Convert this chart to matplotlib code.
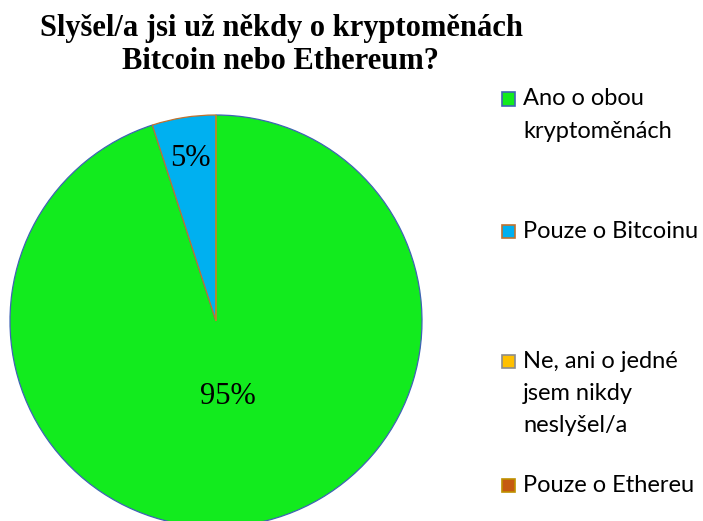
import numpy as np
import matplotlib.pyplot as plt
from matplotlib.patches import Rectangle

# data
labels = ['Ano o obou\nkryptoměnách', 'Pouze o Bitcoinu',
          'Ne, ani o jedné\njsem nikdy\nneslyšel/a', 'Pouze o Ethereu']
values = [95, 5, 0, 0]
colors = ['#12EB1E', '#00B0F0', '#FFC000', '#C55A11']
edges = ['#3F63B5', '#C0722F', '#8C8C8C', '#BF9000']
title = 'Slyšel/a jsi už někdy o kryptoměnách\nBitcoin nebo Ethereum?'

W, H = 703, 521
fig = plt.figure(figsize=(W / 100, H / 100), dpi=100)

# pie centre and radius in pixels
cx, cy, r = 216, 321, 206
ax = fig.add_axes([(cx - r) / W, (H - cy - r) / H, 2 * r / W, 2 * r / H])

def pct(p):
    return '%d%%' % round(p) if p > 0.5 else ''

wedges, texts, autotexts = ax.pie(values, colors=colors, startangle=90,
                                  counterclock=False, autopct=pct,
                                  pctdistance=0.8,
                                  wedgeprops=dict(linewidth=0.9),
                                  textprops=dict(family='Liberation Serif',
                                                 fontsize=22))
for w, e in zip(wedges, edges):
    w.set_edgecolor(e)
ax.set_xlim(-1, 1)
ax.set_ylim(-1, 1)
ax.set_clip_on(False)

# big slice label sits closer to the centre
w0 = wedges[0]
mid = np.deg2rad((w0.theta1 + w0.theta2) / 2)
autotexts[0].set_position((0.37 * np.cos(mid), 0.37 * np.sin(mid)))

fig.text(281 / W, 1 - 45 / H, title, ha='center', va='center',
         family='Liberation Serif', fontweight='bold', fontsize=22,
         linespacing=1.2)

# legend drawn by hand to keep the spread-out spacing
marker_y = [99, 231, 361, 485]
for lab, c, e, y in zip(labels, colors, edges, marker_y):
    fig.patches.append(Rectangle(((502) / W, 1 - (y + 6.5) / H), 13 / W, 13 / H,
                                 transform=fig.transFigure, facecolor=c,
                                 edgecolor=e, linewidth=1.2))
    for i, line in enumerate(lab.split('\n')):
        fig.text(523 / W, 1 - (y + i * 32) / H, line, ha='left', va='center',
                 family='Lato', fontsize=17)

fig.savefig('out.png', dpi=100)
